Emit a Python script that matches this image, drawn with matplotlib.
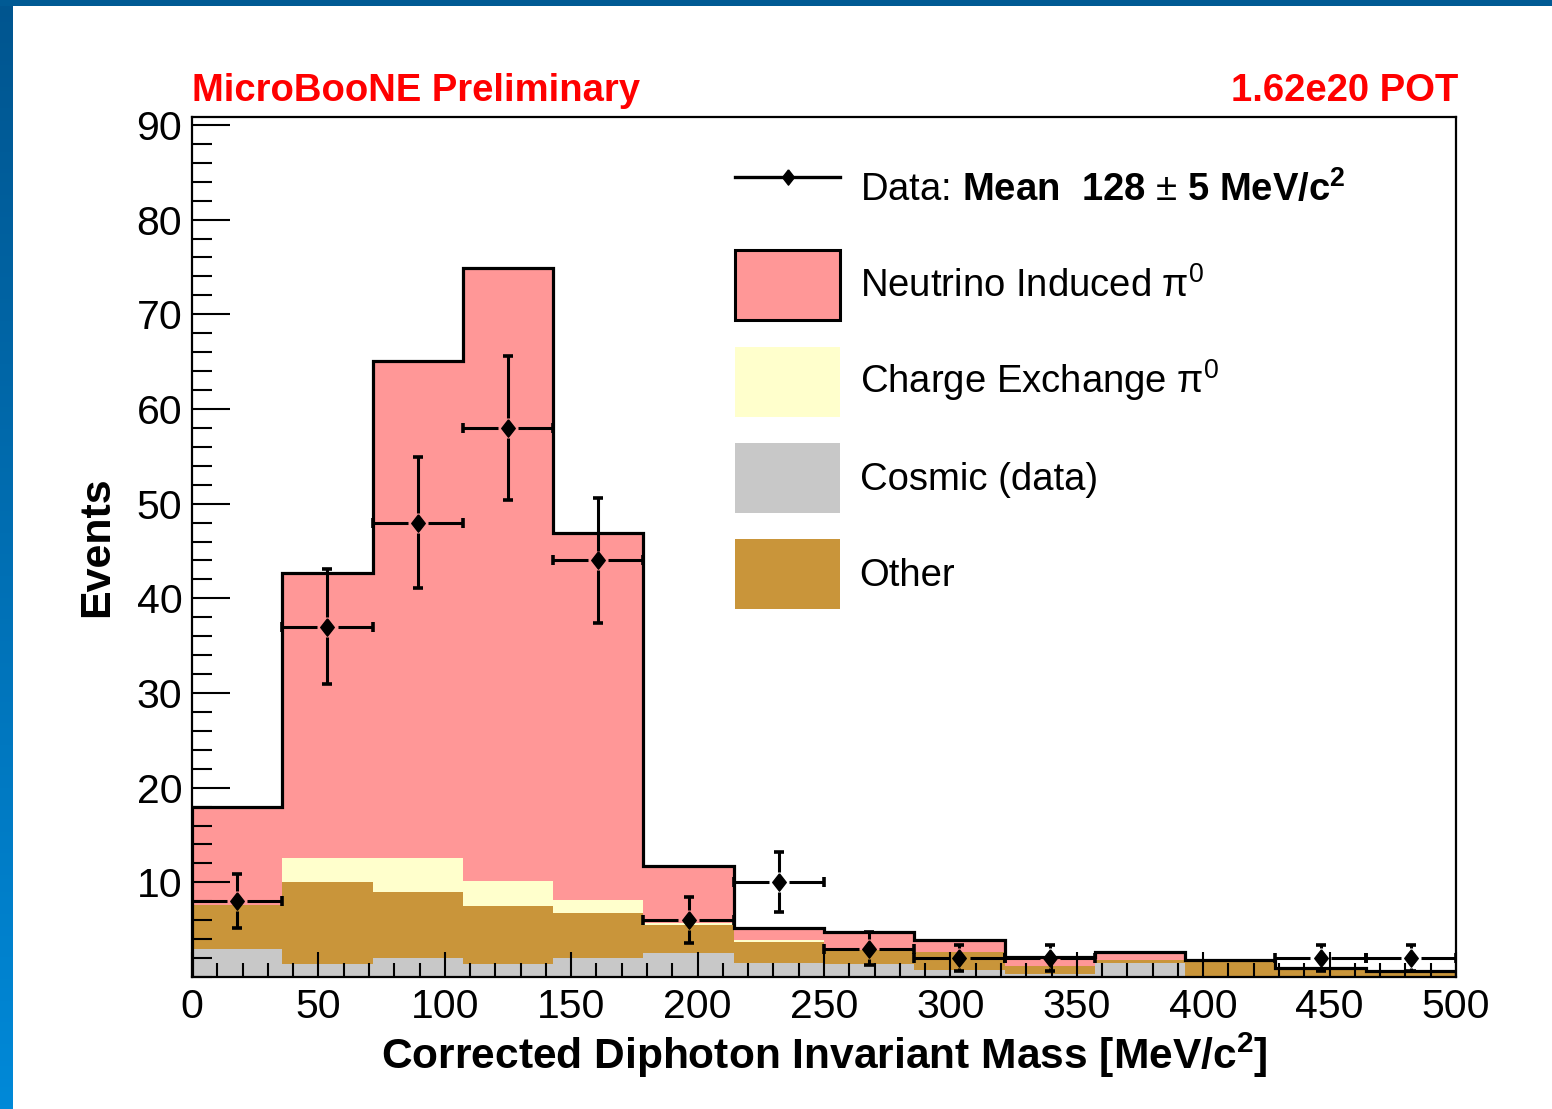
import numpy as np
import matplotlib
matplotlib.use("Agg")
import matplotlib.pyplot as plt
from matplotlib.lines import Line2D
from matplotlib.patches import Patch

plt.rcParams["font.family"] = ["Liberation Sans", "DejaVu Sans"]
plt.rcParams["mathtext.fontset"] = "custom"
plt.rcParams["mathtext.rm"] = "Liberation Sans"
plt.rcParams["mathtext.it"] = "Liberation Sans:italic"
plt.rcParams["mathtext.bf"] = "Liberation Sans:bold"

# ---------------------------------------------------------------------------
# données
# ---------------------------------------------------------------------------
n_bins = 14
edges = np.linspace(0, 500, n_bins + 1)

cosmic = [3.0, 1.4, 2.0, 1.4, 2.0, 2.5, 1.5, 1.4, 0.7, 0.3, 1.5, 0.0, 0.0, 0.0]
other = [4.6, 8.6, 7.0, 6.1, 4.8, 3.0, 2.2, 1.5, 1.9, 0.9, 0.3, 1.6, 0.7, 0.5]
charge_ex = [0.0, 2.6, 3.6, 2.6, 1.3, 0.2, 0.2, 0.0, 0.0, 0.0, 0.0, 0.0, 0.0, 0.0]
neutrino = [10.4, 30.1, 52.5, 64.8, 38.8, 6.0, 1.3, 1.9, 1.3, 0.9, 0.8, 0.2, 0.2, 0.1]
data = [8, 37, 48, 58, 44, 6, 10, 3, 2, 2, 0, 0, 2, 2]

labels = ["Neutrino Induced π$^{0}$", "Charge Exchange π$^{0}$", "Cosmic (data)", "Other"]
data_label = "Data: $\\mathbf{Mean\\ \\ 128}$ ± $\\mathbf{5\\ MeV/c^{2}}$"

c_nu = "#ff9797"
c_cex = "#ffffcc"
c_cos = "#c8c8c8"
c_oth = "#c9953a"

# ---------------------------------------------------------------------------
# figure
# ---------------------------------------------------------------------------
W, H = 1552, 1109
fig = plt.figure(figsize=(W / 100, H / 100), dpi=100)
fig.patch.set_facecolor("white")

# cadre bleu (gauche + haut)
axl = fig.add_axes([0, 0, 13 / W, 1])
grad = np.linspace(0, 1, 256).reshape(-1, 1)
cmap = matplotlib.colors.LinearSegmentedColormap.from_list("b", ["#00558f", "#0089d8"])
axl.imshow(grad, aspect="auto", cmap=cmap, extent=[0, 1, 1, 0])
axl.set_axis_off()
axt = fig.add_axes([0, 1 - 6 / H, 1, 6 / H])
axt.set_facecolor("#005a94")
axt.set_xticks([])
axt.set_yticks([])
for s in axt.spines.values():
    s.set_visible(False)

ax = fig.add_axes([192 / W, 1 - 977 / H, 1264 / W, 860 / H])

# empilement
b0 = np.array(cosmic)
b1 = b0 + np.array(other)
b2 = b1 + np.array(charge_ex)
b3 = b2 + np.array(neutrino)

ax.stairs(b3, edges, baseline=0, fill=True, color=c_nu, lw=0)
ax.stairs(b2, edges, baseline=0, fill=True, color=c_cex, lw=0)
ax.stairs(b1, edges, baseline=0, fill=True, color=c_oth, lw=0)
ax.stairs(b0, edges, baseline=0, fill=True, color=c_cos, lw=0)
ax.stairs(b3, edges, baseline=0, fill=False, color="black", lw=2.3)

# points de données avec barres d'erreur (trou autour du marqueur, style ROOT)
diamond = [(0, 1), (0.78, 0), (0, -1), (-0.78, 0), (0, 1)]
gx, gy = 4.0, 1.05
lw_e = 2.2
centers = 0.5 * (edges[:-1] + edges[1:])
for i, n in enumerate(data):
    if n <= 0:
        continue
    x, y, e = centers[i], n, np.sqrt(n)
    lo, hi = edges[i], edges[i + 1]
    ax.hlines(y, lo, x - gx, color="black", lw=lw_e)
    ax.hlines(y, x + gx, hi, color="black", lw=lw_e)
    if e > gy:
        ax.vlines(x, y + gy, y + e, color="black", lw=lw_e)
        ax.vlines(x, y - e, y - gy, color="black", lw=lw_e)
    ax.plot([x, x], [y - e, y + e], ls="none", marker="_", ms=7, mew=2.6, color="black")
    ax.plot([lo, hi], [y, y], ls="none", marker="|", ms=7, mew=2.6, color="black")
    ax.plot(x, y, ls="none", marker=diamond, ms=12.5, color="black")

ax.set_xlim(0, 500)
ax.set_ylim(0, 90.84)

ax.set_xticks(np.arange(0, 501, 50))
ax.set_xticks(np.arange(0, 501, 10), minor=True)
ax.set_yticks(np.arange(10, 91, 10))
ax.set_yticks(np.arange(0, 91, 2), minor=True)
ax.tick_params(axis="both", which="both", direction="in", width=1.5, labelsize=29.5)
ax.tick_params(axis="x", which="major", length=18, pad=8)
ax.tick_params(axis="x", which="minor", length=10)
ax.tick_params(axis="y", which="major", length=27, pad=7)
ax.tick_params(axis="y", which="minor", length=14.5)
for s in ax.spines.values():
    s.set_linewidth(1.6)

ax.set_xlabel("Corrected Diphoton Invariant Mass [MeV/c$^{\\mathbf{2}}$]",
              fontsize=30.6, fontweight="bold", labelpad=3)
ax.set_ylabel("Events", fontsize=31, fontweight="bold", labelpad=14)

fig.text(192 / W, 1 - 101 / H, "MicroBooNE Preliminary", color="red",
         fontsize=27.5, fontweight="bold", ha="left", va="baseline")
fig.text(1458 / W, 1 - 101 / H, "1.62e20 POT", color="red",
         fontsize=27.5, fontweight="bold", ha="right", va="baseline")

# légende
handles = [
    Line2D([], [], color="black", lw=2.4, marker=diamond, ms=11),
    Patch(facecolor=c_nu, edgecolor="black", lw=2.2),
    Patch(facecolor=c_cex, edgecolor="none"),
    Patch(facecolor=c_cos, edgecolor="none"),
    Patch(facecolor=c_oth, edgecolor="none"),
]
leg = ax.legend(handles, [data_label] + labels, loc="upper left",
                bbox_to_anchor=(735 / W, 1 - 154 / H), bbox_transform=fig.transFigure,
                frameon=False, fontsize=27.5, borderpad=0, borderaxespad=0,
                handlelength=2.76, handleheight=2.44, labelspacing=0.69,
                handletextpad=0.5)

fig.savefig("out.png", dpi=100)
